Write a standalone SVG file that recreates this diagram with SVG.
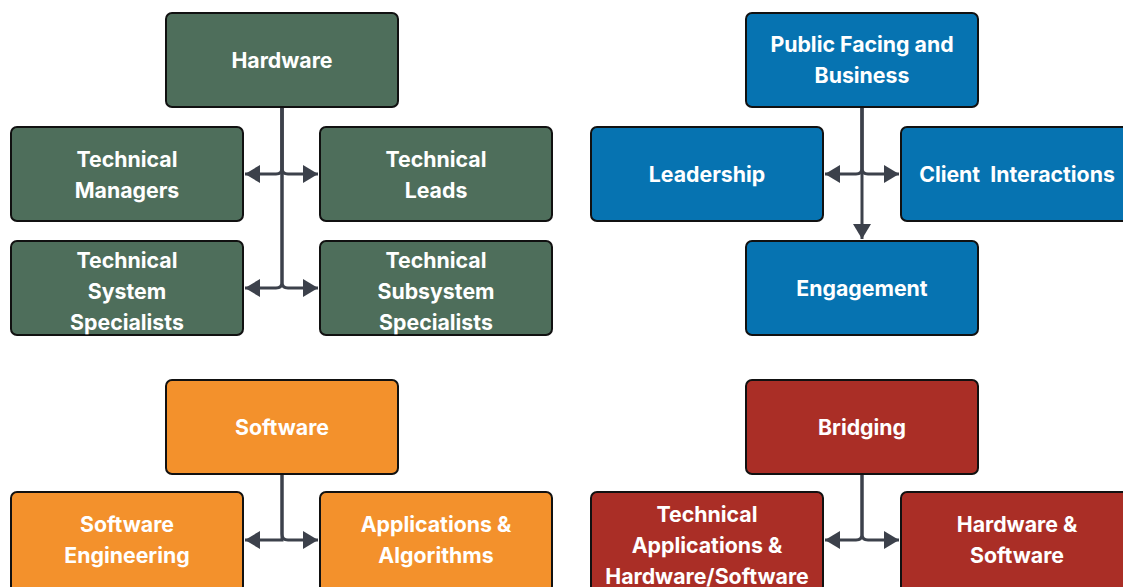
<svg xmlns="http://www.w3.org/2000/svg" width="1123" height="587" viewBox="0 0 1123 587">
<defs>
<marker id="ah" markerUnits="userSpaceOnUse" markerWidth="16" markerHeight="18" refX="15" refY="9" orient="auto">
<path d="M0,0 L15,9 L0,18 z" fill="#3c414b"/>
</marker>
<style>
.box{stroke:#111;stroke-width:2}
.g{fill:#4e6e5b}
.b{fill:#0673b1}
.o{fill:#f3912c}
.r{fill:#aa2e26}
text{font-family:Inter,"Noto Sans","Liberation Sans",sans-serif;font-weight:700;font-size:21.3px;fill:#fff;text-anchor:middle;dominant-baseline:central;white-space:pre}
.c path{fill:none;stroke:#3c414b;stroke-width:3;marker-end:url(#ah)}
</style>
</defs>
<rect width="1123" height="587" fill="#fff"/>
<g class="c" id="connectors">
<path d="M282,107 V168 Q282,174 276,174 H245"/>
<path d="M282,107 V168 Q282,174 288,174 H318"/>
<path d="M282,107 V282 Q282,288 276,288 H245"/>
<path d="M282,107 V282 Q282,288 288,288 H318"/>
<path d="M862,107 V168 Q862,174 856,174 H825"/>
<path d="M862,107 V168 Q862,174 868,174 H899"/>
<path d="M862,107 V239"/>
<path d="M282,474 V540 H245"/>
<path d="M282,474 V534 Q282,540 288,540 H318"/>
<path d="M862,474 V534 Q862,540 856,540 H825"/>
<path d="M862,474 V534 Q862,540 868,540 H899"/>
</g>
<g id="hardware"><rect class="box g" x="166" y="13" width="232" height="94" rx="6"/><text x="282" y="60">Hardware</text></g>
<g id="tech-managers"><rect class="box g" x="11" y="127" width="232" height="94" rx="6"/><text x="127" y="159">Technical</text><text x="127" y="190">Managers</text></g>
<g id="tech-leads"><rect class="box g" x="320" y="127" width="232" height="94" rx="6"/><text x="436" y="159">Technical</text><text x="436" y="190">Leads</text></g>
<g id="tech-system"><rect class="box g" x="11" y="241" width="232" height="94" rx="6"/><text x="127" y="260">Technical</text><text x="127" y="291">System</text><text x="127" y="322">Specialists</text></g>
<g id="tech-subsystem"><rect class="box g" x="320" y="241" width="232" height="94" rx="6"/><text x="436" y="260">Technical</text><text x="436" y="291">Subsystem</text><text x="436" y="322">Specialists</text></g>
<g id="public"><rect class="box b" x="746" y="13" width="232" height="94" rx="6"/><text x="862" y="44">Public Facing and</text><text x="862" y="75">Business</text></g>
<g id="leadership"><rect class="box b" x="591" y="127" width="232" height="94" rx="6"/><text x="707" y="174">Leadership</text></g>
<g id="client"><rect class="box b" x="901" y="127" width="232" height="94" rx="6"/><text x="1017" y="174">Client  Interactions</text></g>
<g id="engagement"><rect class="box b" x="746" y="241" width="232" height="94" rx="6"/><text x="862" y="288">Engagement</text></g>
<g id="software"><rect class="box o" x="166" y="380" width="232" height="94" rx="6"/><text x="282" y="427">Software</text></g>
<g id="sw-eng"><rect class="box o" x="11" y="492" width="232" height="100" rx="6"/><text x="127" y="524">Software</text><text x="127" y="555">Engineering</text></g>
<g id="apps"><rect class="box o" x="320" y="492" width="232" height="100" rx="6"/><text x="436" y="524">Applications &amp;</text><text x="436" y="555">Algorithms</text></g>
<g id="bridging"><rect class="box r" x="746" y="380" width="232" height="94" rx="6"/><text x="862" y="427">Bridging</text></g>
<g id="tech-apps"><rect class="box r" x="591" y="492" width="232" height="100" rx="6"/><text x="707" y="514">Technical</text><text x="707" y="545">Applications &amp;</text><text x="707" y="576">Hardware/Software</text></g>
<g id="hw-sw"><rect class="box r" x="901" y="492" width="232" height="100" rx="6"/><text x="1017" y="524">Hardware &amp;</text><text x="1017" y="555">Software</text></g>
</svg>
